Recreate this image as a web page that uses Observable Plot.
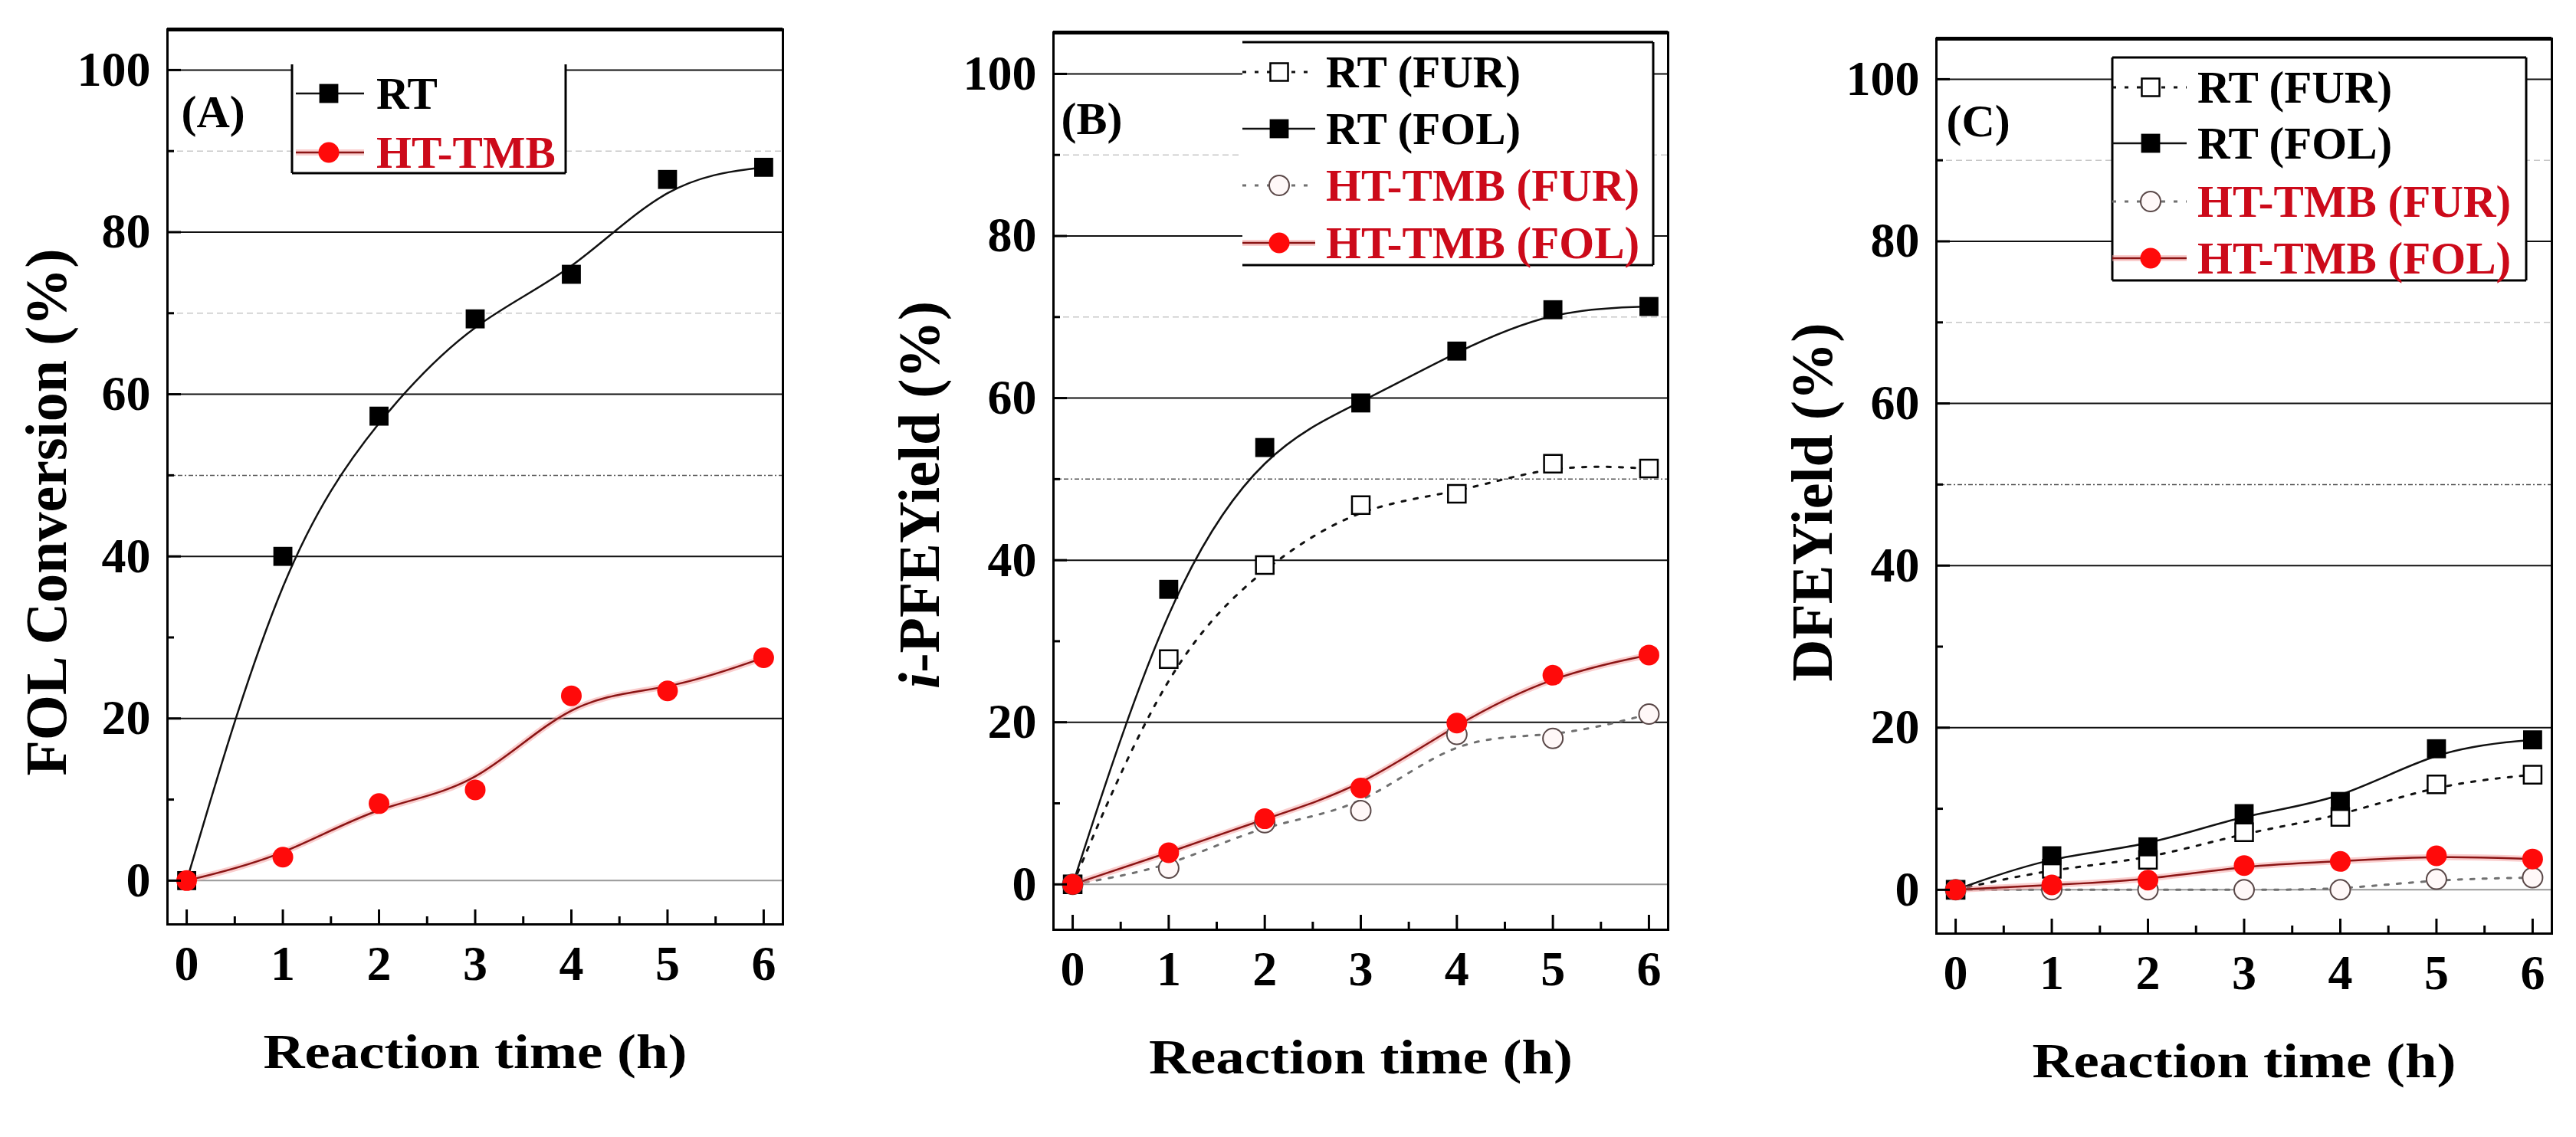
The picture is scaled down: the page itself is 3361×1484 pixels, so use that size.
<!DOCTYPE html>
<html>
<head>
<meta charset="utf-8">
<script src="https://cdn.jsdelivr.net/npm/d3@7"></script>
<script src="https://cdn.jsdelivr.net/npm/@observablehq/plot@0.6"></script>
<style>
  html, body { margin: 0; padding: 0; background: #fff; width: 3361px; height: 1484px; overflow: hidden; }
  .panel { position: absolute; top: 0; }
</style>
</head>
<body>
<div id="root"></div>
<script>
// ---------------- data ----------------
const hours = [0, 1, 2, 3, 4, 5, 6];

// Panel A: FOL conversion (%)
const aRT = [0, 40.0, 57.3, 69.3, 74.8, 86.5, 88.0];
const aHT = [0, 2.9, 9.5, 11.2, 22.8, 23.4, 27.5];

// Panel B: i-PFE yield (%)
const bRT_FUR = [0, 27.8, 39.4, 46.8, 48.2, 51.9, 51.3];
const bRT_FOL = [0, 36.4, 53.9, 59.4, 65.8, 70.9, 71.3];
const bHT_FUR = [0, 2.0, 7.6, 9.1, 18.5, 18.0, 21.0];
const bHT_FOL = [0, 3.9, 8.1, 11.9, 19.9, 25.8, 28.3];

// Panel C: DFE yield (%)
const cRT_FUR = [0, 2.6, 3.7, 7.1, 9.0, 13.0, 14.2];
const cRT_FOL = [0, 4.2, 5.3, 9.4, 10.9, 17.4, 18.5];
const cHT_FUR = [0, 0, 0, 0, 0, 1.3, 1.5];
const cHT_FOL = [0, 0.6, 1.2, 3.0, 3.5, 4.2, 3.8];

// ticks
const xTicks = [0, 1, 2, 3, 4, 5, 6];
const xMinorTicks = [0.5, 1.5, 2.5, 3.5, 4.5, 5.5];
const yTicks = [0, 20, 40, 60, 80, 100];
const yMinorTicks = [10, 30, 50, 70, 90];
const gridMajor = [20, 40, 60, 80, 100];
const gridZero = [0];
const gridDark = [50];
const gridLight = [70, 90];

const xLabel = "Reaction time (h)";
const FONT = "'Liberation Serif', 'Times New Roman', serif";

// ---------------- styles ----------------
const styles = {
  solidBlack: { line: [{ stroke: "#111", width: 2.5 }], symbol: "square", r: 14, fill: "#000", stroke: "none", sw: 0, text: "#000" },
  dottedBlack: { line: [{ stroke: "#111", width: 3, dash: "5,11" }], symbol: "square", r: 13, fill: "#fff", stroke: "#000", sw: 2.5, text: "#000" },
  solidRed: { line: [{ stroke: "#f5a5a5", width: 8, opacity: 0.55 }, { stroke: "#8b1515", width: 2.5 }], symbol: "circle", r: 13.5, fill: "#ff0a0a", stroke: "none", sw: 0, text: "#cc0a1a" },
  dottedRed: { line: [{ stroke: "#707070", width: 3, dash: "5,11" }], symbol: "circle", r: 13, fill: "#fff8f8", stroke: "#5a4848", sw: 2, text: "#cc0a1a" }
};

const panels = [
  {
    left: 0, width: 1120, mTop: 38, mBottom: 1484 - 1206, mRight: 99, yDomain: [-5.4, 105.0],
    label: "(A)", labelDx: 18, labelDy: 108,
    yLabel: "FOL Conversion (%)", yLabelDx: -157, yLabelDy: 46,
    series: [
      { name: "RT", values: aRT, style: "solidBlack" },
      { name: "HT-TMB", values: aHT, style: "solidRed" }
    ],
    legend: { x1: 381, x2: 738, y1: 84, y2: 226, borders: ["left", "right", "bottom"], rowsY: [122, 199], symX: 429, lineX1: 386, lineX2: 475, textX: 491 }
  },
  {
    left: 1156, width: 1120, mTop: 42, mBottom: 1484 - 1213, mRight: 100, yDomain: [-5.6, 105.1],
    label: "(B)", labelDx: 10, labelDy: 113,
    yLabel: "i-PFEYield (%)", yLabelDx: -174, yLabelDy: 18,
    series: [
      { name: "RT (FUR)", values: bRT_FUR, style: "dottedBlack" },
      { name: "RT (FOL)", values: bRT_FOL, style: "solidBlack" },
      { name: "HT-TMB (FUR)", values: bHT_FUR, style: "dottedRed" },
      { name: "HT-TMB (FOL)", values: bHT_FOL, style: "solidRed" }
    ],
    legend: { x1: 465, x2: 1001, y1: 55, y2: 346, borders: ["top", "right", "bottom"], rowsY: [94, 168, 242, 317], symX: 513, lineX1: 465, lineX2: 560, textX: 574 }
  },
  {
    left: 2308, width: 1053, mTop: 50, mBottom: 1484 - 1218, mRight: 32, yDomain: [-5.4, 105.0],
    label: "(C)", labelDx: 13, labelDy: 108,
    yLabel: "DFEYield (%)", yLabelDx: -161, yLabelDy: 21,
    series: [
      { name: "RT (FUR)", values: cRT_FUR, style: "dottedBlack" },
      { name: "RT (FOL)", values: cRT_FOL, style: "solidBlack" },
      { name: "HT-TMB (FUR)", values: cHT_FUR, style: "dottedRed" },
      { name: "HT-TMB (FOL)", values: cHT_FOL, style: "solidRed" }
    ],
    legend: { x1: 448, x2: 988, y1: 75, y2: 366, borders: ["top", "right", "bottom", "left"], rowsY: [114, 187, 263, 337], symX: 498, lineX1: 448, lineX2: 545, textX: 559 }
  }
];

const mk = (values) => hours.map((h, i) => ({ h, v: values[i] }));

function drawLegend(svg, lg, series) {
  const g = d3.select(svg).append("g");
  g.append("rect").attr("x", lg.x1).attr("y", lg.y1)
    .attr("width", lg.x2 - lg.x1).attr("height", lg.y2 - lg.y1).attr("fill", "#fff");
  const edges = {
    top: [lg.x1, lg.y1, lg.x2, lg.y1], bottom: [lg.x1, lg.y2, lg.x2, lg.y2],
    left: [lg.x1, lg.y1, lg.x1, lg.y2], right: [lg.x2, lg.y1, lg.x2, lg.y2]
  };
  lg.borders.forEach(b => {
    const e = edges[b];
    g.append("line").attr("x1", e[0]).attr("y1", e[1]).attr("x2", e[2]).attr("y2", e[3])
      .attr("stroke", "#000").attr("stroke-width", 3);
  });
  series.forEach((s, i) => {
    const st = styles[s.style];
    const y = lg.rowsY[i];
    st.line.forEach(l => {
      g.append("line").attr("x1", lg.lineX1).attr("x2", lg.lineX2).attr("y1", y).attr("y2", y)
        .attr("stroke", l.stroke).attr("stroke-width", l.width)
        .attr("stroke-opacity", l.opacity ?? 1)
        .attr("stroke-dasharray", l.dash || null);
    });
    const type = st.symbol === "square" ? d3.symbolSquare : d3.symbolCircle;
    g.append("path").attr("d", d3.symbol(type, Math.PI * st.r * st.r)())
      .attr("transform", `translate(${lg.symX},${y})`)
      .attr("fill", st.fill).attr("stroke", st.stroke).attr("stroke-width", st.sw);
    g.append("text").attr("x", lg.textX).attr("y", y).attr("dy", "0.34em")
      .attr("fill", st.text).attr("font-size", 59).attr("font-weight", "bold")
      .attr("font-family", FONT).attr("text-anchor", "start").text(s.name);
  });
}

const root = document.getElementById("root");
const fmtInt = d3.format("d");

panels.forEach(p => {
  const innerH = 1484 - p.mTop - p.mBottom;
  const innerW = p.width - 218 - p.mRight;
  const marks = [
    Plot.ruleY(gridLight, { y: d => d, stroke: "#c8c8c8", strokeWidth: 1.5, strokeDasharray: "8,5" }),
    Plot.ruleY(gridDark, { y: d => d, stroke: "#555", strokeWidth: 1.5, strokeDasharray: "6,3,2,3" }),
    Plot.ruleY(gridZero, { y: d => d, stroke: "#999", strokeWidth: 2 }),
    Plot.ruleY(gridMajor, { y: d => d, stroke: "#111", strokeWidth: 2 })
  ];
  p.series.forEach(s => {
    const st = styles[s.style];
    st.line.forEach(l => {
      marks.push(Plot.line(mk(s.values), {
        x: "h", y: "v", curve: "basis", stroke: l.stroke, strokeWidth: l.width,
        strokeOpacity: l.opacity ?? 1, strokeDasharray: l.dash
      }));
    });
  });
  p.series.forEach(s => {
    const st = styles[s.style];
    marks.push(Plot.dot(mk(s.values), {
      x: "h", y: "v", symbol: st.symbol, r: st.r, fill: st.fill, stroke: st.stroke, strokeWidth: st.sw
    }));
  });
  marks.push(
    Plot.ruleX(xTicks, { x: d => d, insetTop: innerH - 19, stroke: "#000", strokeWidth: 3 }),
    Plot.ruleX(xMinorTicks, { x: d => d, insetTop: innerH - 10, stroke: "#000", strokeWidth: 3 }),
    Plot.ruleY(yTicks, { y: d => d, insetRight: innerW - 18, stroke: "#000", strokeWidth: 3 }),
    Plot.ruleY(yMinorTicks, { y: d => d, insetRight: innerW - 9, stroke: "#000", strokeWidth: 3 }),
    Plot.frame({ stroke: "#000", strokeWidth: 3 }),
    Plot.ruleY([p.yDomain[1]], { y: d => d, stroke: "#000", strokeWidth: 5 }),
    Plot.axisX({ anchor: "bottom", ticks: xTicks, tickFormat: fmtInt, tickSize: 0, tickPadding: 27, fontSize: 64, fontWeight: "bold", fontFamily: FONT, label: null, fill: "#000" }),
    Plot.axisY({ anchor: "left", ticks: yTicks, tickFormat: fmtInt, tickSize: 0, tickPadding: 22, fontSize: 64, fontWeight: "bold", fontFamily: FONT, label: null, fill: "#000" }),
    Plot.text([p.label], { text: d => d, frameAnchor: "top-left", dx: p.labelDx, dy: p.labelDy, textAnchor: "start", lineAnchor: "middle", fontSize: 60, fontWeight: "bold", fontFamily: FONT, fill: "#000" }),
    Plot.text([xLabel], { text: d => d, frameAnchor: "bottom", dy: 167, lineAnchor: "middle", fontSize: 64, fontWeight: "bold", fontFamily: FONT, fill: "#000" }),
    Plot.text([p.yLabel], { text: d => d, frameAnchor: "left", rotate: -90, dx: p.yLabelDx, dy: p.yLabelDy, textAnchor: "middle", lineAnchor: "middle", fontSize: 76, fontWeight: "bold", fontFamily: FONT, fill: "#000" })
  );

  const svg = Plot.plot({
    width: p.width,
    height: 1484,
    marginTop: p.mTop,
    marginBottom: p.mBottom,
    marginLeft: 218,
    marginRight: p.mRight,
    style: { fontFamily: FONT, fontWeight: "bold", background: "#fff", maxWidth: "none" },
    x: { domain: [-0.2, 6.2] },
    y: { domain: p.yDomain },
    marks
  });

  // post-process text: x label length and italic "i"
  svg.querySelectorAll("text").forEach(t => {
    const s = t.textContent;
    if (s === xLabel) {
      t.setAttribute("textLength", 553);
      t.setAttribute("lengthAdjust", "spacingAndGlyphs");
    } else if (s === p.yLabel && s.startsWith("i-")) {
      t.textContent = "";
      const ns = "http://www.w3.org/2000/svg";
      const t1 = document.createElementNS(ns, "tspan");
      t1.setAttribute("font-style", "italic");
      t1.textContent = "i";
      const t2 = document.createElementNS(ns, "tspan");
      t2.textContent = s.slice(1);
      t.appendChild(t1); t.appendChild(t2);
    }
  });

  drawLegend(svg, p.legend, p.series);

  const div = document.createElement("div");
  div.className = "panel";
  div.style.left = p.left + "px";
  div.style.width = p.width + "px";
  div.appendChild(svg);
  root.appendChild(div);
});
</script>
</body>
</html>
